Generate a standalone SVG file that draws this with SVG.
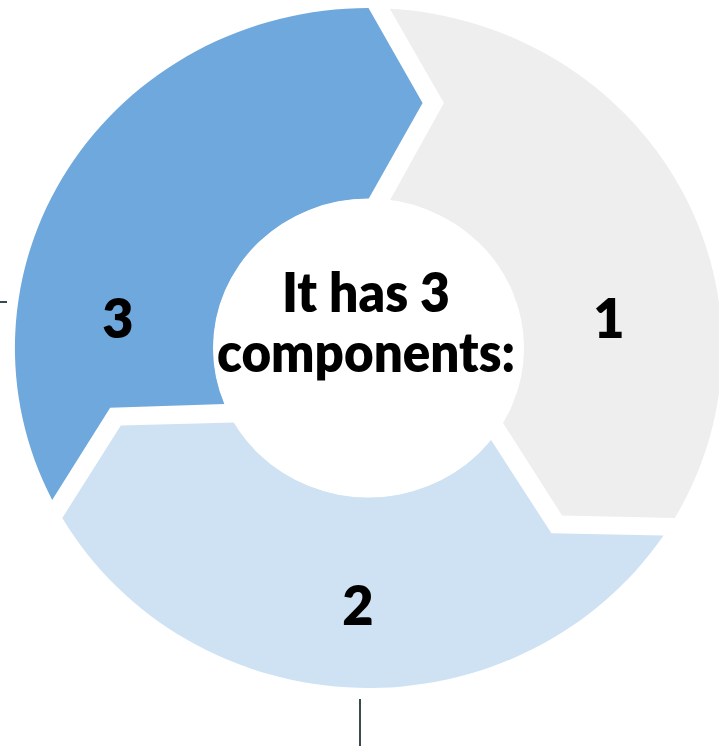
<svg xmlns="http://www.w3.org/2000/svg" width="719" height="746" viewBox="0 0 719 746">
  <defs>
    <style>
      .seg-dark { fill: #6fa8dc; }
      .seg-light { fill: #cfe2f3; }
      .seg-grey { fill: #eeeeee; }
      .hub { fill: #ffffff; }
      .label { font-family: Lato, "Liberation Sans", sans-serif; font-weight: 800; font-size: 54px; fill: #000000; text-anchor: middle; }
      .tick { stroke: #3c4a4f; stroke-width: 2; fill: none; }
    </style>
    <!-- One ring segment: notched tail at -120deg, chevron head at the top -->
    <path id="segment" d="M 0 -340 L 52 -245 L 0 -149 A 149 149 0 0 0 -138.07 56.05 L -248.42 59.71 L -304.15 151.94 A 340 340 0 0 1 0 -340 Z"/>
  </defs>

  <rect width="719" height="746" fill="#ffffff"/>

  <g id="ring" transform="translate(368.5 348) scale(1.04 1)">
    <g id="node-1">
      <use href="#segment" class="seg-grey" transform="rotate(120)"/>
    </g>
    <g id="node-2">
      <use href="#segment" class="seg-light" transform="rotate(240)"/>
    </g>
    <g id="node-3">
      <use href="#segment" class="seg-dark"/>
    </g>
    <g id="hub">
      <circle class="hub" cx="0" cy="0" r="149.5"/>
    </g>
  </g>

  <g id="labels">
    <text class="label" x="366" y="312" textLength="168" lengthAdjust="spacingAndGlyphs">It has 3</text>
    <text class="label" x="366" y="372" textLength="298" lengthAdjust="spacingAndGlyphs">components:</text>
    <text class="label" x="609" y="338">1</text>
    <text class="label" x="358" y="625">2</text>
    <text class="label" x="118" y="338">3</text>
  </g>

  <g id="connectors">
    <line class="tick" x1="0" y1="302" x2="7" y2="302"/>
    <line class="tick" x1="360" y1="699" x2="360" y2="746"/>
  </g>
</svg>
